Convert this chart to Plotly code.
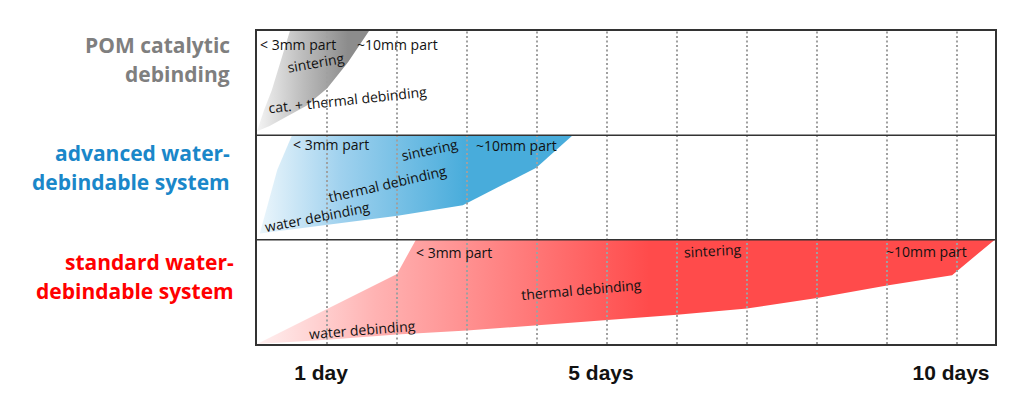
import plotly.graph_objects as go

# ---- data (x in days, y in stacked panel units: 0-1 standard, 1-2 advanced, 2-3 POM) ----
pom_x = [0.0, 0.10, 0.21, 0.33, 0.47, 1.60, 1.30, 1.00, 0.70, 0.40, 0.18, 0.0]
pom_y = [2.04, 2.24, 2.43, 2.70, 3.00, 3.00, 2.70, 2.45, 2.28, 2.17, 2.09, 2.04]

adv_x = [0.04, 0.29, 0.50, 4.51, 3.99, 2.94, 2.01, 0.04]
adv_y = [1.06, 1.67, 2.00, 2.00, 1.69, 1.33, 1.23, 1.06]

std_x = [0.0, 2.00, 2.27, 10.54, 9.93, 9.00, 8.00, 7.00, 6.00, 5.00, 4.00, 3.00, 2.00, 1.00, 0.0]
std_y = [0.0, 0.67, 1.00, 1.00, 0.66, 0.56, 0.44, 0.34, 0.28, 0.23, 0.18, 0.13, 0.09, 0.04, 0.0]

day_lines = [1, 2, 3, 4, 5, 6, 7, 8, 9, 10]
tick_days = [1, 5, 10]
tick_text = ["1 day", "5 days", "10 days"]

system_names = [["POM catalytic", "debinding"],
                ["advanced water-", "debindable system"],
                ["standard water-", "debindable system"]]
system_colors = ["#7f7f7f", "#1a87c9", "#ff0000"]

# stage labels: (text, x, y, angle, xanchor)
stage_labels = [
    ("< 3mm part", 0.02, 2.875, 0, "left"),
    ("~10mm part", 1.40, 2.875, 0, "left"),
    ("sintering", 0.83, 2.70, -10, "center"),
    ("cat. + thermal debinding", 1.29, 2.34, -6, "center"),
    ("< 3mm part", 1.06, 1.91, 0, "center"),
    ("sintering", 2.47, 1.86, -12, "center"),
    ("~10mm part", 3.71, 1.90, 0, "center"),
    ("thermal debinding", 1.87, 1.54, -13, "center"),
    ("water debinding", 0.87, 1.22, -11, "center"),
    ("< 3mm part", 2.81, 0.88, 0, "center"),
    ("sintering", 6.51, 0.90, -3, "center"),
    ("~10mm part", 9.56, 0.89, 0, "center"),
    ("thermal debinding", 4.63, 0.52, -5, "center"),
    ("water debinding", 1.51, 0.14, -4.5, "center"),
]

fig = go.Figure()

fig.add_trace(go.Scatter(
    x=std_x, y=std_y, mode="lines", fill="toself", line=dict(width=0),
    fillgradient=dict(type="horizontal", start=0, stop=5.6,
                      colorscale=[[0, "#fff0f0"], [0.3, "#ffb3b3"], [1, "#ff4b4b"]]),
    hoverinfo="skip", showlegend=False))

fig.add_trace(go.Scatter(
    x=adv_x, y=adv_y, mode="lines", fill="toself", line=dict(width=0),
    fillgradient=dict(type="horizontal", start=0, stop=3.0,
                      colorscale=[[0, "#eef7fc"], [0.4, "#9fd1ee"], [1, "#48acdb"]]),
    hoverinfo="skip", showlegend=False))

fig.add_trace(go.Scatter(
    x=pom_x, y=pom_y, mode="lines", fill="toself", line=dict(width=0),
    fillgradient=dict(type="horizontal", start=0, stop=1.3,
                      colorscale=[[0, "#f4f4f4"], [0.5, "#bdbdbd"], [1, "#8c8c8c"]]),
    hoverinfo="skip", showlegend=False))

shapes = []
for d in day_lines:
    shapes.append(dict(type="line", xref="x", yref="y", x0=d, x1=d, y0=0, y1=3,
                       line=dict(color="#a0a0a0", width=2, dash="2px,2.5px"), layer="above"))
for yb in [1, 2]:
    shapes.append(dict(type="line", xref="paper", yref="y", x0=0, x1=1, y0=yb, y1=yb,
                       line=dict(color="#333333", width=1.5), layer="above"))

annotations = []
for text, x, y, ang, xa in stage_labels:
    annotations.append(dict(text=text, x=x, y=y, xref="x", yref="y", showarrow=False,
                            textangle=ang, xanchor=xa, yanchor="middle",
                            font=dict(family="Open Sans", size=14, color="#111111")))

# system names (two lines each, right aligned left of plot)
line_pos = [(2.87, 2.59), (1.83, 1.55), (0.79, 0.51)]
x_right = [-0.034, -0.034, -0.028]
for names, col, ys, xr in zip(system_names, system_colors, line_pos, x_right):
    for name, yv in zip(names, ys):
        annotations.append(dict(text="<b>" + name + "</b>", x=xr, y=yv, xref="paper", yref="y",
                                showarrow=False, xanchor="right", yanchor="middle",
                                font=dict(family="Open Sans", size=21, color=col)))

fig.update_layout(
    width=1024, height=414,
    margin=dict(l=257, r=29, t=31, b=70),
    paper_bgcolor="white", plot_bgcolor="white",
    shapes=shapes, annotations=annotations,
    xaxis=dict(range=[0, 10.543], showgrid=False, zeroline=False,
               tickvals=tick_days, ticktext=["<b>" + t + "</b>" for t in tick_text],
               ticks="", ticklabelstandoff=9, ticklabelshift=-6,
               tickfont=dict(family="Liberation Sans", size=21, color="#111111"),
               showline=True, linecolor="#333333", linewidth=1.5, mirror=True),
    yaxis=dict(range=[0, 3], showgrid=False, zeroline=False, showticklabels=False, ticks="",
               showline=True, linecolor="#333333", linewidth=1.5, mirror=True),
)

fig.write_html("out.html")
